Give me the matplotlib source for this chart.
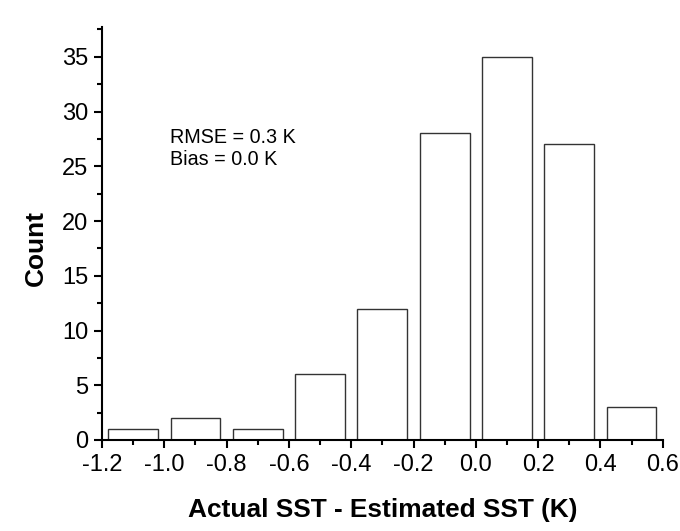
import matplotlib
matplotlib.use("Agg")
import matplotlib.pyplot as plt
import matplotlib.ticker as ticker

plt.rcParams['font.family'] = ['Liberation Sans', 'DejaVu Sans']

# histogram bins (centres) and counts
bin_centers = [-1.1, -0.9, -0.7, -0.5, -0.3, -0.1, 0.1, 0.3, 0.5]
counts = [1, 2, 1, 6, 12, 28, 35, 27, 3]
bin_width = 0.2
stats_text = ["RMSE = 0.3 K", "Bias = 0.0 K"]

fig = plt.figure(figsize=(6.8, 5.31), dpi=100)
ax = fig.add_axes([0.15, 0.1714, 0.8246, 0.7783])

ax.bar(bin_centers, counts, width=bin_width * 0.8, color="white",
       edgecolor="#333333", linewidth=1.0, zorder=2)

ax.set_xlim(-1.2, 0.6)
ax.set_ylim(0, 37.75)
ax.xaxis.set_major_locator(ticker.MultipleLocator(0.2))
ax.xaxis.set_minor_locator(ticker.MultipleLocator(0.1))
ax.yaxis.set_major_locator(ticker.MultipleLocator(5))
ax.yaxis.set_minor_locator(ticker.MultipleLocator(2.5))
ax.xaxis.set_major_formatter(ticker.FormatStrFormatter('%.1f'))

ax.spines['top'].set_visible(False)
ax.spines['right'].set_visible(False)
ax.spines['bottom'].set_linewidth(1.5)
ax.spines['left'].set_linewidth(1.5)

ax.tick_params(which='major', direction='out', length=6, width=1.5, labelsize=17, pad=4)
ax.tick_params(which='minor', direction='out', length=3.5, width=1.5)

ax.set_xlabel("Actual SST - Estimated SST (K)", fontsize=18.9, fontweight='bold', labelpad=16)
ax.set_ylabel("Count", fontsize=18.9, fontweight='bold')
ax.yaxis.set_label_coords(-0.097, 0.465)

ax.text(0.122, 0.756, stats_text[0] + "\n" + stats_text[1], transform=ax.transAxes,
        fontsize=14.2, va='top', ha='left', linespacing=1.2)

fig.savefig("out.png", dpi=100, facecolor="white")
